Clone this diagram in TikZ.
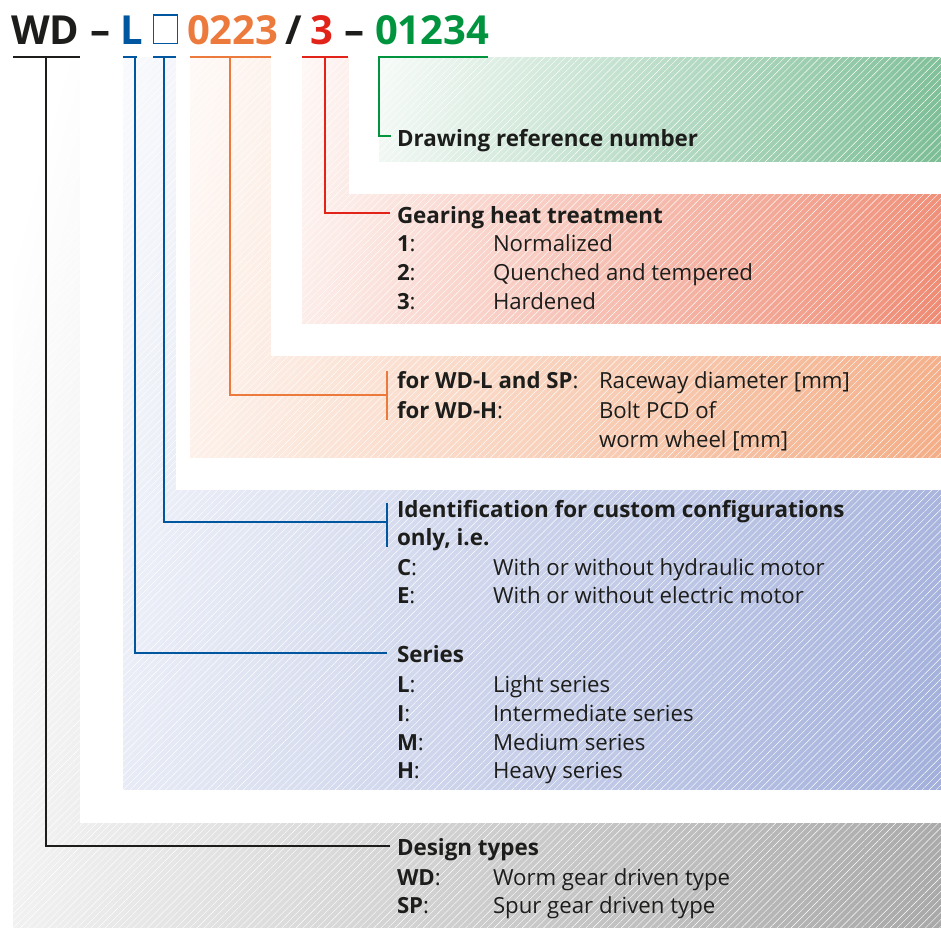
\documentclass[tikz,border=0pt]{standalone}
\usepackage{fontspec}
\setmainfont{Open Sans}
\usetikzlibrary{patterns.meta}

\definecolor{txt}{RGB}{29,29,27}
\definecolor{cblue}{RGB}{0,87,160}
\definecolor{corange}{RGB}{236,122,60}
\definecolor{cred}{RGB}{226,35,26}
\definecolor{cgreen}{RGB}{0,148,62}

\definecolor{pgreen}{RGB}{85,170,118}
\definecolor{pred}{RGB}{234,105,75}
\definecolor{porange}{RGB}{240,150,100}
\definecolor{pblue}{RGB}{135,152,208}
\definecolor{pgray}{RGB}{140,140,140}

\pgfdeclarehorizontalshading{shgreen}{100bp}{color(0bp)=(white); color(15bp)=(white); color(100bp)=(pgreen)}
\pgfdeclarehorizontalshading{shred}{100bp}{color(0bp)=(white); color(15bp)=(white); color(100bp)=(pred)}
\pgfdeclarehorizontalshading{shorange}{100bp}{color(0bp)=(white); color(15bp)=(white); color(100bp)=(porange)}
\pgfdeclarehorizontalshading{shblue}{100bp}{color(0bp)=(white); color(15bp)=(white); color(100bp)=(pblue)}
\pgfdeclarehorizontalshading{shgray}{100bp}{color(0bp)=(white); color(22bp)=(white); color(100bp)=(pgray)}

\tikzset{
  lbl/.style={anchor=base west, inner sep=0pt, outer sep=0pt, text=txt,
    font=\fontsize{22.2}{26}\selectfont},
  hd/.style={lbl, font=\fontsize{22.4}{26}\selectfont\bfseries},
  big/.style={anchor=base west, inner sep=0pt, outer sep=0pt,
    font=\fontsize{40}{48}\selectfont\bfseries},
  conn/.style={line width=2pt},
  stripes/.style={pattern={Lines[angle=45,distance=5pt,line width=0.4pt]},
    pattern color=white, fill opacity=0.12},
  blank/.style={fill=white},
}

\begin{document}
\begin{tikzpicture}[x=1pt,y=-1pt]
\useasboundingbox (0,0) rectangle (941,927);

% ---------- panels ----------
\shade[shading=shgray, shading angle=-15] (13,57) rectangle (941,927);
\fill[stripes] (13,57) rectangle (941,927);
\fill[blank] (80,57) rectangle (941,823);

\shade[shading=shblue, shading angle=-15] (123,57) rectangle (941,789);
\fill[stripes] (123,57) rectangle (941,789);
\fill[blank] (176,57) rectangle (941,490);

\shade[shading=shorange, shading angle=-15] (190,57) rectangle (941,457);
\fill[stripes] (190,57) rectangle (941,457);
\fill[blank] (271,57) rectangle (941,356);

\shade[shading=shred, shading angle=-15] (302,57) rectangle (941,323);
\fill[stripes] (302,57) rectangle (941,323);
\fill[blank] (349,57) rectangle (941,194);

\shade[shading=shgreen, shading angle=-15] (379,57) rectangle (941,161);
\fill[stripes] (379,57) rectangle (941,161);

% ---------- header ----------
\node[big, text=txt] (hWD) at (11,44) {WD};
\node[big, text=txt] (hdashA) at (90,44) {–};
\node[big, text=cblue] (hL) at (120,44) {L};
\node[draw=cblue, line width=1.3pt, minimum width=23.5pt, minimum height=28.5pt,
      inner sep=0pt, anchor=south west] (hBox) at (153,44) {};
\node[big, text=corange] (h0223) at (187,44) {0223};
\node[big, text=txt] (hSlash) at (285,44) {/};
\node[big, text=cred] (hThree) at (310,44) {3};
\node[big, text=txt] (hdashB) at (344,44) {–};
\node[big, text=cgreen] (hNum) at (375,44) {01234};

% ---------- texts ----------
\node[hd] (tDraw) at (397,146) {Drawing reference number};

\node[hd] (tGear) at (397,223) {Gearing heat treatment};
\node[lbl] (k1) at (397,251) {\textbf{1}:};
\node[lbl] (d1) at (493,251) {Normalized};
\node[lbl] (k2) at (397,280) {\textbf{2}:};
\node[lbl] (d2) at (493,280) {Quenched and tempered};
\node[lbl] (k3) at (397,309) {\textbf{3}:};
\node[lbl] (d3) at (493,309) {Hardened};

\node[lbl] (o1) at (397,388) {\textbf{for WD-L and SP}:};
\node[lbl] (od1) at (599,388) {Raceway diameter [mm]};
\node[lbl] (o2) at (397,418) {\textbf{for WD-H}:};
\node[lbl] (od2) at (599,418) {Bolt PCD of};
\node[lbl] (od3) at (599,447) {worm wheel [mm]};

\node[hd] (tIdent) at (397,517) {Identification for custom configurations};
\node[hd] (tOnly) at (397,545) {only, i.e.};
\node[lbl] (kC) at (397,575) {\textbf{C}:};
\node[lbl] (dC) at (493,575) {With or without hydraulic motor};
\node[lbl] (kE) at (397,603) {\textbf{E}:};
\node[lbl] (dE) at (493,603) {With or without electric motor};

\node[hd] (tSeries) at (397,662) {Series};
\node[lbl] (kL) at (397,692) {\textbf{L}:};
\node[lbl] (dL) at (493,692) {Light series};
\node[lbl] (kI) at (397,721) {\textbf{I}:};
\node[lbl] (dI) at (493,721) {Intermediate series};
\node[lbl] (kM) at (397,750) {\textbf{M}:};
\node[lbl] (dM) at (493,750) {Medium series};
\node[lbl] (kH) at (397,778) {\textbf{H}:};
\node[lbl] (dH) at (493,778) {Heavy series};

\node[hd] (tDesign) at (397,855) {Design types};
\node[lbl] (kWD) at (397,885) {\textbf{WD}:};
\node[lbl] (dWD) at (493,885) {Worm gear driven type};
\node[lbl] (kSP) at (397,913) {\textbf{SP}:};
\node[lbl] (dSP) at (493,913) {Spur gear driven type};

% ---------- connector coordinates ----------
\coordinate (uWDa) at (13,57);   \coordinate (uWDb) at (80,57);   \coordinate (uWDm) at (46,57);
\coordinate (uLa) at (123,57);   \coordinate (uLb) at (137,57);   \coordinate (uLm) at (134.5,57);
\coordinate (uBa) at (153,57);   \coordinate (uBb) at (176,57);   \coordinate (uBm) at (164,57);
\coordinate (uOa) at (190,57);   \coordinate (uOb) at (271,57);   \coordinate (uOm) at (230,57);
\coordinate (uRa) at (302,57);   \coordinate (uRb) at (348,57);   \coordinate (uRm) at (325,57);
\coordinate (uGa) at (378,57);   \coordinate (uGb) at (488,57);   \coordinate (uGm) at (379,57);

\coordinate (eDesign) at (390,846);
\coordinate (eSeries) at (387,653);
\coordinate (eIdent) at (387,522);
\coordinate (bIdentT) at (387,503); \coordinate (bIdentB) at (387,547);
\coordinate (eOr) at (387,395);
\coordinate (bOrT) at (387,371); \coordinate (bOrB) at (387,420);
\coordinate (eRed) at (390,213);
\coordinate (eGreen) at (390,136);

% ---------- connectors ----------
\draw[conn, draw=txt] (uWDa) -- (uWDb);
\draw[conn, draw=txt] (uWDm) |- (eDesign);

\draw[conn, draw=cblue] (uLa) -- (uLb);
\draw[conn, draw=cblue] (uLm) |- (eSeries);

\draw[conn, draw=cblue] (uBa) -- (uBb);
\draw[conn, draw=cblue] (uBm) |- (eIdent);
\draw[conn, draw=cblue] (bIdentT) -- (bIdentB);

\draw[conn, draw=corange] (uOa) -- (uOb);
\draw[conn, draw=corange] (uOm) |- (eOr);
\draw[conn, draw=corange] (bOrT) -- (bOrB);

\draw[conn, draw=cred] (uRa) -- (uRb);
\draw[conn, draw=cred] (uRm) |- (eRed);

\draw[conn, draw=cgreen] (uGa) -- (uGb);
\draw[conn, draw=cgreen, line cap=rect] (uGm) |- (eGreen);
\end{tikzpicture}
\end{document}
